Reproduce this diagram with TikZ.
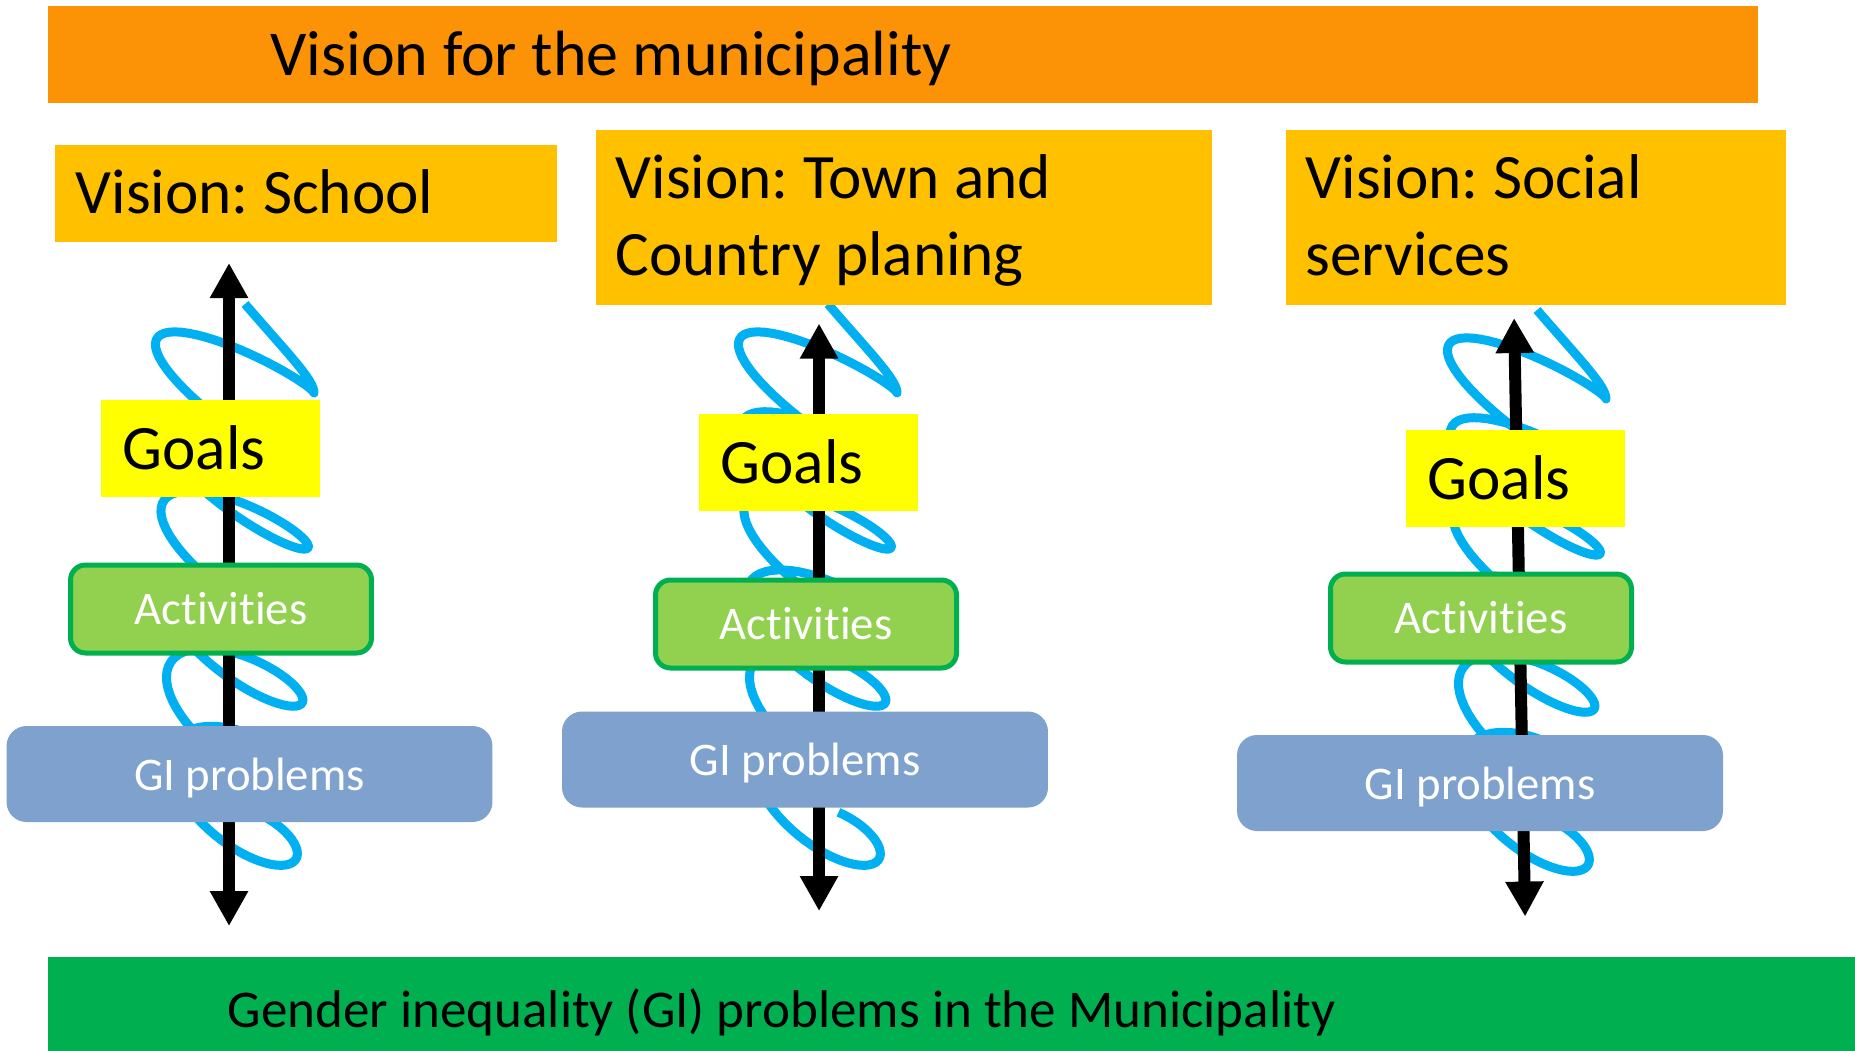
\documentclass[tikz,border=0pt]{standalone}
\usepackage{fontspec}
\setmainfont{Carlito}[Ligatures=NoCommon]
\usetikzlibrary{arrows.meta}
\frenchspacing

\definecolor{munorange}{RGB}{252,146,6}
\definecolor{visiongold}{RGB}{255,192,0}
\definecolor{goalyellow}{RGB}{255,255,0}
\definecolor{actgreen}{RGB}{146,208,80}
\definecolor{darkgreen}{RGB}{0,176,80}
\definecolor{giblue}{RGB}{126,161,205}
\definecolor{coilblue}{RGB}{0,176,240}

\begin{document}
\begin{tikzpicture}[scale=0.1]
        \tikzset{every node/.append style={inner sep=0pt}}
        \tikzset{bigtext/.style={anchor=base west, font=\fontsize{18}{22}\selectfont}}
        \tikzset{barbox/.style={anchor=north west, minimum height=9.7mm}}
        \tikzset{visionbox/.style={anchor=north west, fill=visiongold}}
        \tikzset{goalbox/.style={anchor=north west, fill=goalyellow, minimum height=9.7mm, text width=17.5mm, inner xsep=2.2mm, align=left, font=\fontsize{18}{22}\selectfont}}
        \tikzset{actbox/.style={fill=actgreen, draw=darkgreen, line width=0.5mm, rounded corners=1.5mm, minimum width=30.1mm, minimum height=8.8mm, text=white, font=\fontsize{13.3}{16}\selectfont}}
        \tikzset{gibox/.style={fill=giblue, rounded corners=2mm, minimum width=48.6mm, minimum height=9.6mm, text=white, text depth=0pt, font=\fontsize{13.3}{16}\selectfont}}
        \tikzset{coilline/.style={coilblue, line width=0.9mm, line join=round}}
        \tikzset{biarrow/.style={line width=1.2mm, {Triangle[length=3.5mm,width=3.6mm]}-{Triangle[length=3.5mm,width=3.6mm]}}}
        \useasboundingbox (0,0) rectangle (185.5,-105.1);
        % bars
        \node [barbox, fill=munorange, minimum width=171mm] (topbar) at (4.7,-0.5) {};
        \node [bigtext, font=\fontsize{18.2}{22}\selectfont] (toptext) at (27.0,-7.5) {Vision for the municipality};
        \node [barbox, fill=darkgreen, minimum width=180.8mm, minimum height=9.5mm] (bottombar) at (4.7,-95.6) {};
        \node [bigtext, font=\fontsize{15.1}{18}\selectfont] (bottomtext) at (22.7,-102.7) {Gender inequality (GI) problems in the Municipality};
        % coils
        \foreach \cx/\cy in {24.5/-30.4, 82.8/-30.4, 153.7/-31.0}
          \draw [coilline, shift={(\cx,\cy)}] (0,0) .. controls (4.5,-5.2) and (6.9,-7.6) .. (6.9,-8.9)
            -- plot [domain=0:2230, samples=340, variable=\t]
               ({-1.1+(8-\t/1300)*cos(\t)}, {-4.4-\t/45+(2.0+\t/1000)*sin(\t)-(4.5-\t/1100)*cos(\t)});
        % arrows
        \coordinate (up1) at (22.9,-26.3);
        \coordinate (down1) at (22.9,-92.6);
        \coordinate (up2) at (81.9,-32.35);
        \coordinate (down2) at (81.9,-91.1);
        \coordinate (up3) at (151.4,-31.8);
        \coordinate (down3) at (152.5,-91.65);
        \draw [biarrow] (up1) -- (down1);
        \draw [biarrow] (up2) -- (down2);
        \draw [biarrow] (up3) -- (down3);
        % vision boxes
        \node [visionbox, minimum width=50.2mm, minimum height=9.7mm] (schoolbox) at (5.4,-14.4) {};
        \node [bigtext] (school) at (7.5,-21.3) {Vision: School};
        \node [visionbox, minimum width=61.6mm, minimum height=17.5mm] (townbox) at (59.5,-12.9) {};
        \node [bigtext] (townA) at (61.5,-19.8) {Vision: Town and};
        \node [bigtext] (townB) at (61.5,-27.5) {Country planing};
        \node [visionbox, minimum width=50.0mm, minimum height=17.5mm] (socialbox) at (128.5,-12.9) {};
        \node [bigtext] (socialA) at (130.5,-19.8) {Vision: Social};
        \node [bigtext] (socialB) at (130.5,-27.5) {services};
        % goals, activities, problems
        \node [goalbox] (goals1) at (10.0,-39.9) {Goals};
        \node [goalbox] (goals2) at (69.8,-41.3) {Goals};
        \node [goalbox] (goals3) at (140.5,-42.9) {Goals};
        \node [actbox] (act1) at (22.1,-60.9) {Activities};
        \node [actbox] (act2) at (80.6,-62.4) {Activities};
        \node [actbox] (act3) at (148.1,-61.8) {Activities};
        \node [gibox] (gi1) at (24.95,-77.4) {GI problems};
        \node [gibox] (gi2) at (80.5,-75.95) {GI problems};
        \node [gibox] (gi3) at (148.0,-78.3) {GI problems};
\end{tikzpicture}
\end{document}
